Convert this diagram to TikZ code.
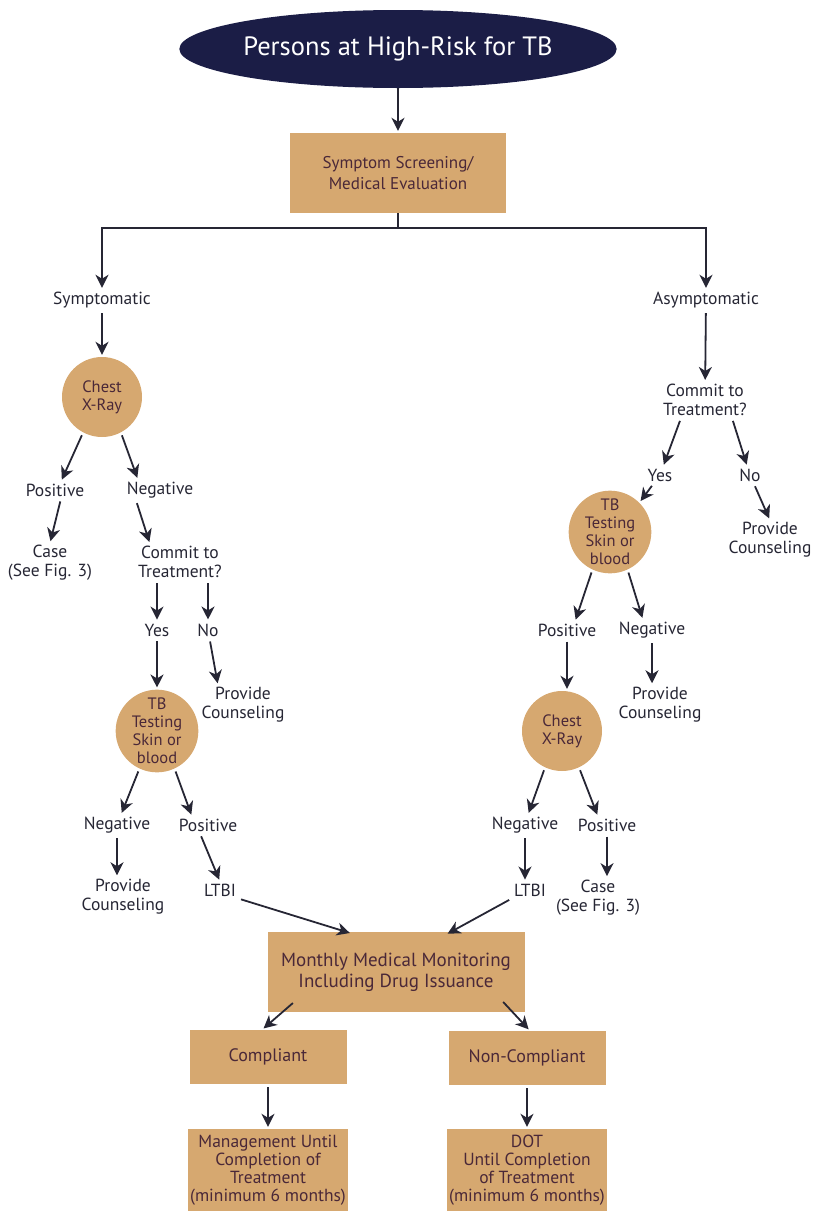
\documentclass[tikz,border=0pt]{standalone}
\usepackage{fontspec}
\setmainfont{PT Sans}
\usetikzlibrary{arrows.meta,shapes.geometric}
\definecolor{tan}{RGB}{214,168,112}
\definecolor{navy}{RGB}{27,29,70}
\definecolor{ink}{RGB}{38,38,52}
\definecolor{boxink}{RGB}{74,40,56}

\begin{document}
\begin{tikzpicture}[x=1pt, y=-1pt,
    lbl/.style={align=center, text=ink, inner sep=2pt, font=\fontsize{17.5}{19}\selectfont},
    box/.style={rectangle, fill=tan, align=center, text=boxink, inner sep=2pt, font=\fontsize{18}{21}\selectfont},
    test/.style={circle, fill=tan, align=center, text=boxink, inner sep=0pt, minimum size=80pt, font=\fontsize{16.5}{18}\selectfont},
    arr/.style={draw=ink, line width=1.8pt, -{Stealth[length=13pt, width=13pt, inset=4pt]}, shorten <=3pt, shorten >=2pt}]
    \useasboundingbox (0,0) rectangle (814,1211);
    % top of the chart
    \node[ellipse, fill=navy, text=white, minimum width=340pt, minimum height=78pt, inner sep=0pt, font=\fontsize{26.5}{32}\selectfont] (top) at (398,49) {Persons at High-Risk for TB};
    \node[box, minimum width=216pt, minimum height=80pt, font=\fontsize{17}{21}\selectfont] (scr) at (398,173) {Symptom Screening/\\Medical Evaluation};
    \coordinate (split) at (398,228);
    \node[lbl] (sym) at (102,300) {Symptomatic};
    \node[lbl] (asym) at (706,300) {Asymptomatic};
    % symptomatic side
    \node[test] (cxL) at (102,397) {Chest\\X-Ray};
    \node[lbl] (posL1) at (55,490) {Positive};
    \node[lbl] (negL1) at (160,490) {Negative};
    \node[lbl] (caseL) at (50,563) {Case\\(See Fig. 3)};
    \node[lbl] (comL) at (180,562) {Commit to\\Treatment?};
    \node[lbl] (yesL) at (157,630) {Yes};
    \node[lbl] (noL) at (208,630) {No};
    \node[test] (tbL) at (157,731) {TB\\Testing\\Skin or\\blood};
    \node[lbl] (counL1) at (243,705) {Provide\\Counseling};
    \node[lbl] (negL2) at (117,825) {Negative};
    \node[lbl] (posL2) at (208,825) {Positive};
    \node[lbl] (counL2) at (123,897) {Provide\\Counseling};
    \node[lbl] (ltbiL) at (220,890) {LTBI};
    % asymptomatic side
    \node[lbl] (comR) at (705,400) {Commit to\\Treatment?};
    \node[lbl] (yesR) at (660,475) {Yes};
    \node[lbl] (noR) at (750,475) {No};
    \node[test] (tbR) at (610,532) {TB\\Testing\\Skin or\\blood};
    \node[lbl] (counR1) at (770,540) {Provide\\Counseling};
    \node[lbl] (posR1) at (567,630) {Positive};
    \node[lbl] (negR1) at (652,630) {Negative};
    \node[test] (cxR) at (562,731) {Chest\\X-Ray};
    \node[lbl] (counR2) at (660,705) {Provide\\Counseling};
    \node[lbl] (negR2) at (525,825) {Negative};
    \node[lbl] (posR2) at (607,825) {Positive};
    \node[lbl] (ltbiR) at (530,890) {LTBI};
    \node[lbl] (caseR) at (598,898) {Case\\(See Fig. 3)};
    % treatment
    \node[box, minimum width=257pt, minimum height=80pt, font=\fontsize{19}{21}\selectfont] (mon) at (396,972) {Monthly Medical Monitoring\\Including Drug Issuance};
    \node[box, minimum width=157pt, minimum height=54pt] (comp) at (268,1057) {Compliant};
    \node[box, minimum width=157pt, minimum height=54pt] (ncomp) at (527,1058) {Non-Compliant};
    \node[box, minimum width=157pt, minimum height=82pt, font=\fontsize{17.5}{18}\selectfont] (mgmt) at (268,1170) {Management Until\\Completion of\\Treatment\\(minimum 6 months)};
    \node[box, minimum width=157pt, minimum height=82pt, font=\fontsize{17.5}{18}\selectfont] (dot) at (527,1170) {DOT\\Until Completion\\of Treatment\\(minimum 6 months)};

    \draw[arr, shorten <=0pt] (top) -- (scr);
    \draw[arr, shorten <=0pt] (scr.south) -- (split) -| (sym);
    \draw[arr, shorten <=0pt] (split) -| (asym);
    \draw[arr] (sym) -- (cxL);
    \draw[arr] (cxL.242) -- ([xshift=6pt]posL1.north);
    \draw[arr] (cxL.298) -- ([xshift=-22pt]negL1.north);
    \draw[arr] ([xshift=6pt]posL1.south) -- (caseL.north);
    \draw[arr] ([xshift=-24pt]negL1.south) -- ([xshift=-30pt]comL.north);
    \draw[arr] (yesL |- comL.south) -- (yesL);
    \draw[arr] (noL |- comL.south) -- (noL);
    \draw[arr] (yesL) -- (tbL);
    \draw[arr] (noL) -- ([xshift=-25pt]counL1.north);
    \draw[arr] (tbL.245) -- ([xshift=4pt]negL2.north);
    \draw[arr] (tbL.295) -- ([xshift=-16pt]posL2.north);
    \draw[arr] (negL2) -- (negL2 |- counL2.north);
    \draw[arr] ([xshift=-8pt]posL2.south) -- (ltbiL.north);
    \draw[arr] (asym) -- (comR);
    \draw[arr] ([xshift=-24pt]comR.south) -- (yesR);
    \draw[arr] ([xshift=27pt]comR.south) -- (noR);
    \draw[arr] (yesR) -- (tbR.45);
    \draw[arr] (noR) -- (counR1.north);
    \draw[arr] (tbR.245) -- ([xshift=8pt]posR1.north);
    \draw[arr] (tbR.295) -- ([xshift=-9pt]negR1.north);
    \draw[arr] (posR1) -- (posR1 |- cxR.north);
    \draw[arr] (negR1) -- (negR1 |- counR2.north);
    \draw[arr] (cxR.245) -- ([xshift=3pt]negR2.north);
    \draw[arr] (cxR.295) -- ([xshift=-9pt]posR2.north);
    \draw[arr] (negR2) -- (negR2 |- ltbiR.north);
    \draw[arr] (posR2) -- (posR2 |- caseR.north);
    \draw[arr, shorten >=-4pt] (ltbiL.south east) -- ([xshift=-50pt]mon.north);
    \draw[arr, shorten >=-4pt] (ltbiR.south west) -- ([xshift=55pt]mon.north);
    \draw[arr, shorten <=-14pt] ([xshift=15pt]mon.south west) -- ([xshift=-6pt]comp.north);
    \draw[arr, shorten <=-14pt] ([xshift=-12pt]mon.south east) -- ([xshift=3pt]ncomp.north);
    \draw[arr] (comp) -- (mgmt);
    \draw[arr] (ncomp) -- (dot);
\end{tikzpicture}
\end{document}
